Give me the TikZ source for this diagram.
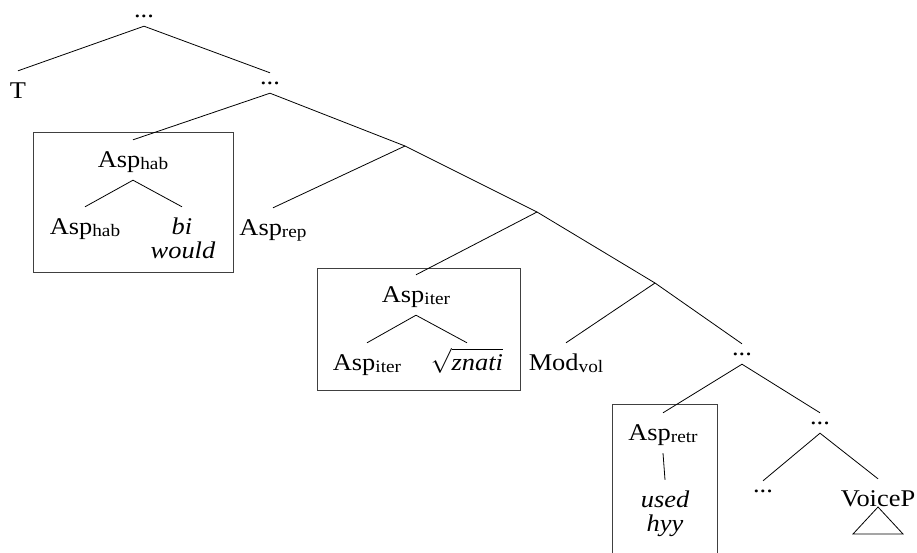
\documentclass[tikz,border=0pt]{standalone}
\usepackage{fontspec}
\setmainfont[FakeStretch=1.1]{Liberation Serif}
\newcommand\subsc[1]{\raisebox{-2.5pt}{\fontsize{17.5}{17.5}\selectfont #1}}
\begin{document}
\begin{tikzpicture}[x=1pt,y=-1pt,
  every node/.style={font=\fontsize{24}{28}\selectfont, anchor=base},
  lab/.style={text height=15pt, text depth=1pt, inner xsep=0pt, inner ysep=12pt},
  dts/.style={text height=2pt, text depth=0pt, inner xsep=0pt, inner ysep=9pt},
  edge/.style={line width=0.8pt},
  boxline/.style={line width=0.8pt, draw=black!75}]
\useasboundingbox (0,0) rectangle (917,552);
% boxes
\draw[boxline] (33,132) rectangle (233,272);
\draw[boxline] (317,268) rectangle (520,390);
\draw[boxline] (612,560) -- (612,404) -- (717,404) -- (717,560);
% nodes
\node[dts] (top) at (144,17) {...};
\node[lab] (T) at (18,98) {T};
\node[dts] (d2) at (270,84) {...};
\coordinate (b1) at (405,146);
\node[lab] (hab) at (133,167) {Asp\subsc{hab}};
\node[lab] (hab2) at (85,234) {Asp\subsc{hab}};
\node[lab] (bi) at (182,234) {\itshape bi};
\node[lab] (would) at (183,258) {\itshape would};
\node[lab] (rep) at (273,235) {Asp\subsc{rep}};
\coordinate (b2) at (537,212);
\node[lab] (iter) at (416,302) {Asp\subsc{iter}};
\node[lab] (iter2) at (367,370) {Asp\subsc{iter}};
\node[lab] (zn) at (467,370) {$\sqrt{\textit{znati}}$};
\node[lab] (mod) at (566,370) {Mod\subsc{vol}};
\coordinate (b3) at (655,283);
\node[dts] (d3) at (742,355) {...};
\node[lab] (retr) at (663,440) {Asp\subsc{retr}};
\node[lab] (used) at (665,507) {\itshape used};
\node[lab] (hyy) at (665,531) {\itshape hyy};
\node[dts] (d4) at (820,424) {...};
\node[dts] (d5) at (763,492) {...};
\node[lab] (voice) at (878,506) {VoiceP};
% edges
\draw[edge] (T.north) -- (top.south) -- (d2.north);
\draw[edge] (hab.north) -- (d2.south) -- (b1);
\draw[edge] (hab2.north) -- (hab.south) -- (bi.north);
\draw[edge] (rep.north) -- (b1) -- (b2);
\draw[edge] (iter.north) -- (b2) -- (b3);
\draw[edge] (iter2.north) -- (iter.south) -- (zn.north);
\draw[edge] (mod.north) -- (b3) -- (d3.north);
\draw[edge] (retr.north) -- (d3.south) -- (d4.north);
\draw[edge] (retr.south) -- (used.north);
\draw[edge] (d5.north) -- (d4.south) -- (voice.north);
\draw[edge] (voice.base) ++(0,1) -- ++(-25,27) -- ++(50,0) -- cycle;
\end{tikzpicture}
\end{document}
